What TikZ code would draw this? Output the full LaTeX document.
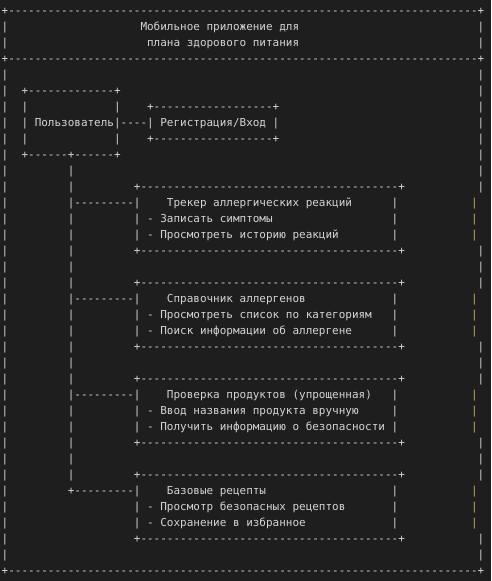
\documentclass[tikz,border=0pt]{standalone}
\usepackage{fontspec}
\newfontfamily\mono{DejaVu Sans Mono}
\definecolor{bg}{HTML}{1E1E1E}
\definecolor{fg}{HTML}{D4D4D4}
\definecolor{amb}{RGB}{205,165,90}
\newcommand\Dd[1]{\foreach\k in {1,...,#1}{-\kern0pt}}
\newcommand\Tx[3]{\node[txt] (n#2x#1) at ({1.7+6.61*#1},{14+16*#2}) {#3};}
\newcommand\Full[1]{\Tx{0}{#1}{+\Dd{71}+}}
\newcommand\Wl[1]{\Tx{0}{#1}{|}\Tx{72}{#1}{|}}
\newcommand\Wo[1]{\Tx{0}{#1}{|}\node[txt,text=amb] (o#1) at ({1.7+6.61*71},{14+16*#1}) {|};}
\newcommand\Bx[1]{\Tx{20}{#1}{+\Dd{39}+}}
\begin{document}
\begin{tikzpicture}[x=1pt,y=-1pt,
  txt/.style={anchor=base west,inner sep=0pt,outer sep=0pt,text=fg,font=\mono\fontsize{10.98}{13}\selectfont}]
\fill[bg] (0,0) rectangle (491,581);
\useasboundingbox (0,0) rectangle (491,581);
% header
\Full{0}
\Wl{1}\Tx{21}{1}{Мобильное приложение для}
\Wl{2}\Tx{22}{2}{плана здорового питания}
\Full{3}
\Wl{4}
% user box
\Wl{5}\Tx{3}{5}{+\Dd{13}+}
\Wl{6}\Tx{3}{6}{|}\Tx{17}{6}{|}\Tx{22}{6}{+\Dd{18}+}
\Wl{7}\Tx{3}{7}{| Пользователь|\Dd{4}| Регистрация/Вход |}
\Wl{8}\Tx{3}{8}{|}\Tx{17}{8}{|}\Tx{22}{8}{+\Dd{18}+}
\Wl{9}\Tx{3}{9}{+\Dd{6}+\Dd{6}+}
\Wl{10}\Tx{10}{10}{|}
% box 1
\Wl{11}\Tx{10}{11}{|}\Bx{11}
\Wo{12}\Tx{10}{12}{|\Dd{9}|}\Tx{25}{12}{Трекер аллергических реакций}\Tx{59}{12}{|}
\Wo{13}\Tx{10}{13}{|}\Tx{20}{13}{| - Записать симптомы}\Tx{59}{13}{|}
\Wo{14}\Tx{10}{14}{|}\Tx{20}{14}{| - Просмотреть историю реакций}\Tx{59}{14}{|}
\Wl{15}\Tx{10}{15}{|}\Bx{15}
\Wl{16}\Tx{10}{16}{|}
% box 2
\Wl{17}\Tx{10}{17}{|}\Bx{17}
\Wo{18}\Tx{10}{18}{|\Dd{9}|}\Tx{25}{18}{Справочник аллергенов}\Tx{59}{18}{|}
\Wo{19}\Tx{10}{19}{|}\Tx{20}{19}{| - Просмотреть список по категориям}\Tx{59}{19}{|}
\Wo{20}\Tx{10}{20}{|}\Tx{20}{20}{| - Поиск информации об аллергене}\Tx{59}{20}{|}
\Wl{21}\Tx{10}{21}{|}\Bx{21}
\Wl{22}\Tx{10}{22}{|}
% box 3
\Wl{23}\Tx{10}{23}{|}\Bx{23}
\Wo{24}\Tx{10}{24}{|\Dd{9}|}\Tx{25}{24}{Проверка продуктов (упрощенная)}\Tx{59}{24}{|}
\Wo{25}\Tx{10}{25}{|}\Tx{20}{25}{| - Ввод названия продукта вручную}\Tx{59}{25}{|}
\Wo{26}\Tx{10}{26}{|}\Tx{20}{26}{| - Получить информацию о безопасности |}
\Wl{27}\Tx{10}{27}{|}\Bx{27}
\Wl{28}\Tx{10}{28}{|}
% box 4
\Wl{29}\Tx{10}{29}{|}\Bx{29}
\Wo{30}\Tx{10}{30}{+\Dd{9}|}\Tx{25}{30}{Базовые рецепты}\Tx{59}{30}{|}
\Wo{31}\Tx{20}{31}{| - Просмотр безопасных рецептов}\Tx{59}{31}{|}
\Wo{32}\Tx{20}{32}{| - Сохранение в избранное}\Tx{59}{32}{|}
\Wl{33}\Bx{33}
\Wl{34}
\Full{35}
\end{tikzpicture}
\end{document}
